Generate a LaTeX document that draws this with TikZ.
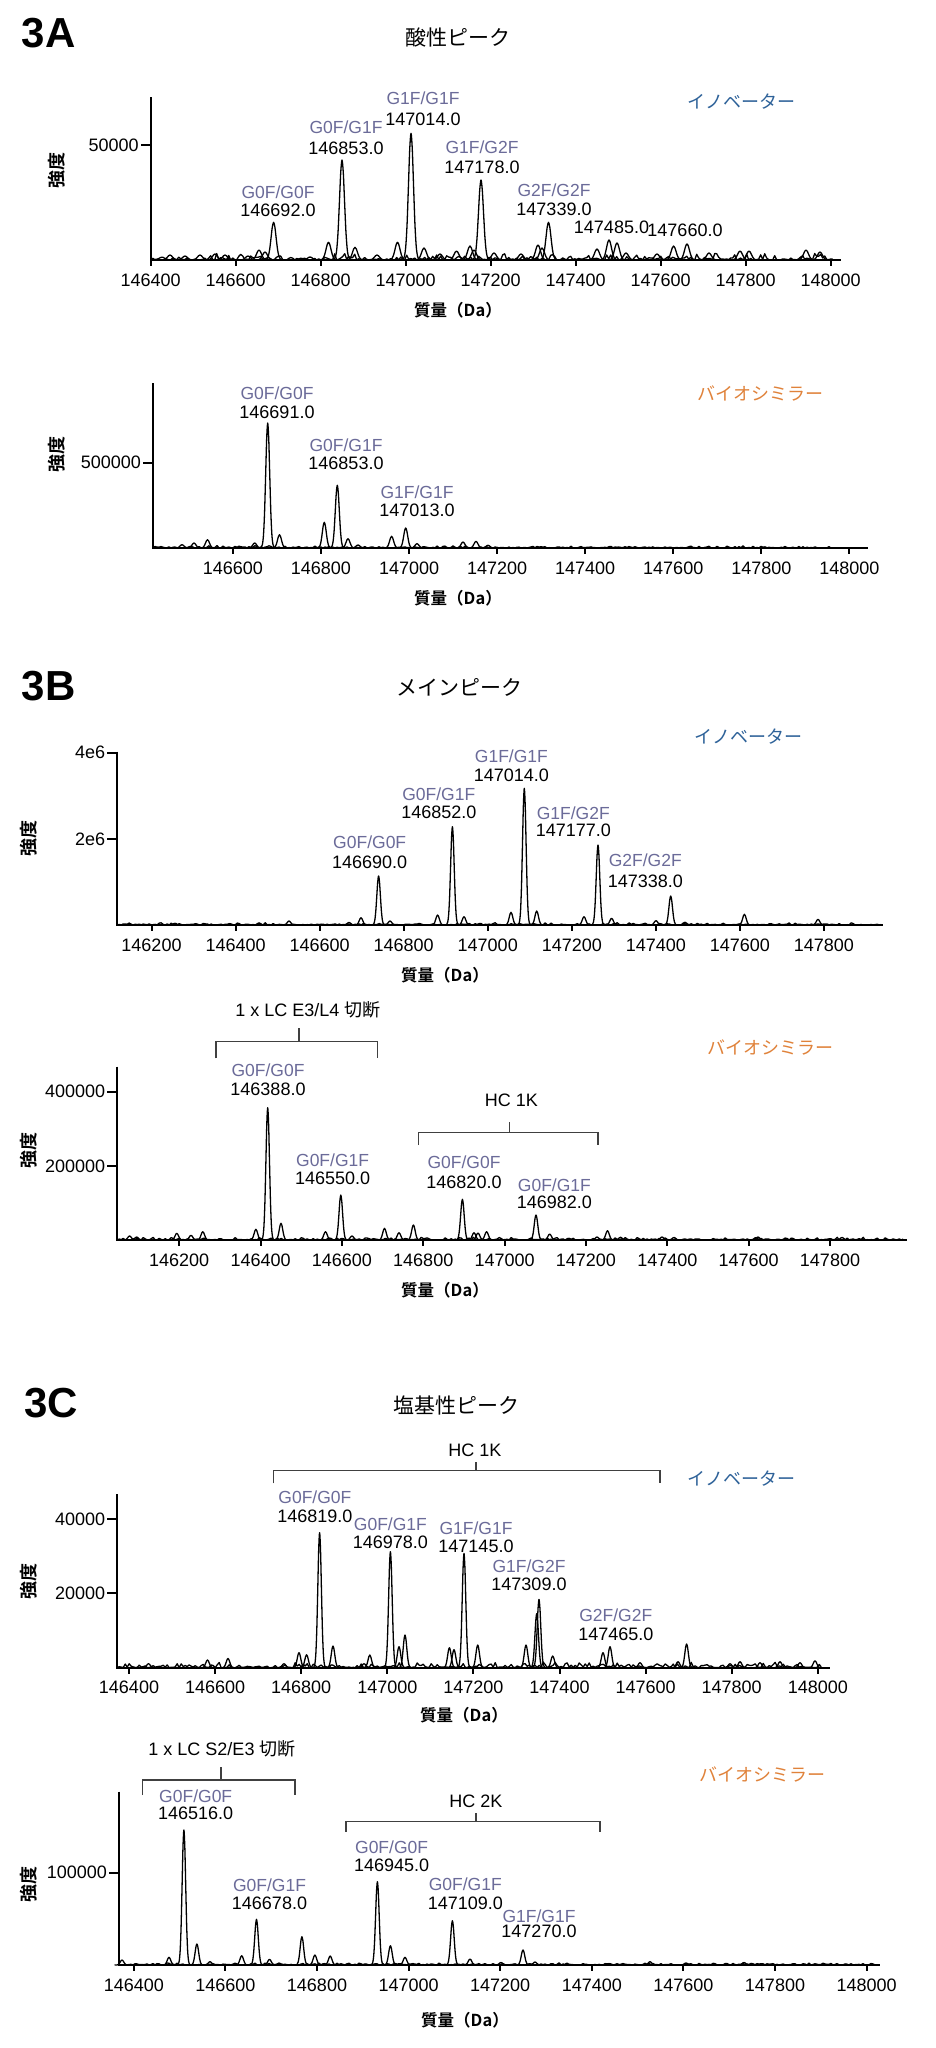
\documentclass[tikz,border=0pt]{standalone}
\usepackage{fontspec}
\setmainfont{Liberation Sans}
\newfontfamily\jp{Noto Sans CJK JP}[BoldFont={* Bold}]
\definecolor{glyco}{HTML}{6B6B99}
\definecolor{innov}{HTML}{2E6299}
\definecolor{biosim}{HTML}{E0823A}
% one peak at x=#1, height #2 (pixels above \base, width \pw)
\newcommand\pk[2]{%
  \pgfmathsetmacro\pkA{#1-3*\pw}\pgfmathsetmacro\pkB{#1+3*\pw}%
  \draw[spec] plot[domain=\pkA:\pkB,samples=17,smooth] (\x,{\base-#2*exp(-((\x-#1)/\pw)^2)});}
% baseline noise from x=#1, #2 steps, amplitude #3
\newcommand\noise[3]{\draw[spec] (#1,\base) \foreach \k in {1,...,#2}{ -- ({#1+2*\k},{\base-#3*rnd*rnd}) };}
% x ticks: first x, spacing, base, first mass/100, name, last index
\newcommand\xticks[6]{%
  \foreach \k in {0,...,#6}{%
    \pgfmathtruncatemacro\m{#4+2*\k}%
    \draw[ax] ({#1+#2*\k},#3) -- ++(0,6);
    \node[num] (#5\k) at ({#1+#2*\k},{#3+20}) {\m00};}}
\begin{document}
\begin{tikzpicture}[x=1pt,y=-1pt,
  spec/.style={line width=1.3pt,line join=round},
  ax/.style={line width=2pt},
  num/.style={font=\fontsize{18}{20}\selectfont,inner sep=0pt},
  glyco/.style={font=\fontsize{17.5}{20}\selectfont,text=glyco,inner sep=0pt},
  mass/.style={font=\fontsize{18}{20}\selectfont,inner sep=0pt},
  ylab/.style={font=\jp\bfseries\fontsize{18}{20}\selectfont,rotate=90,inner sep=0pt},
  xlab/.style={font=\jp\bfseries\fontsize{16.5}{20}\selectfont,inner sep=0pt},
  title/.style={font=\jp\fontsize{21}{24}\selectfont,inner sep=0pt},
  letter/.style={font=\bfseries\fontsize{42}{44}\selectfont,inner sep=0pt},
  innov/.style={font=\jp\fontsize{18}{20}\selectfont,text=innov,inner sep=0pt},
  bio/.style={font=\jp\fontsize{18}{20}\selectfont,text=biosim,inner sep=0pt},
  brk/.style={line width=1.5pt,black!75},
  brtext/.style={font=\fontsize{18}{20}\selectfont,inner sep=0pt}]
\useasboundingbox (0,0) rectangle (935,2048);
\fill[white] (0,0) rectangle (935,2048);
\pgfmathsetseed{11}

% ---- 3A innovator
\node[letter] (pA) at (48.5,33) {3A};
\node[title] (tA) at (458,37) {酸性ピーク};
\node[innov] (aIn) at (741,102) {イノベーター};
\node[ylab] (aIy) at (57,170) {強度};
\node[xlab] (aIx) at (458,310) {質量（Da）};
\def\base{260}\def\pw{3.5}
\draw[ax] (150.7,97) -- (150.7,260) -- (841,260);
\xticks{150.7}{85}{260}{1464}{aIt}{8}
\draw[ax] (150.7,145) -- ++(-10,0) node[num,anchor=east,inner sep=1pt] (aIy1) {50000};
\noise{150.7}{341}{7}
\foreach \px/\ph in {273.6/37.7,342/100,411/126.7,481/80,548.5/37.7,609/20,617/17,673.6/14,687/16,
  259/10,265/8,328.5/17.7,355/12.7,397.5/17.7,424/12,440/6,456.5/9,470/14,474/10,494/7,521/6,
  538/15,542/12,597/11,626/7,657/6,709/7,740/9,749/9,806/10,820/8,170/5,185/4,200/5,215/6,225/5,
  248/4,310/3,377/5}{\pk{\px}{\ph}}
\foreach \lx/\gy/\my/\ga/\gb/\m [count=\i] in {278/192/210/G0F/G0F/146692.0,
  346/127/148/G0F/G1F/146853.0,423/98/119/G1F/G1F/147014.0,
  482/147/167/G1F/G2F/147178.0,554/190/209/G2F/G2F/147339.0}{
  \node[glyco] (aIg\i) at (\lx,\gy) {\ga/\gb};
  \node[mass] (aIm\i) at (\lx,\my) {\m};}
\node[mass] (aIm6) at (611.5,227) {147485.0};
\node[mass] (aIm7) at (685,230) {147660.0};

% ---- 3A biosimilar
\node[bio] (aBn) at (760,393) {バイオシミラー};
\node[ylab] (aBy) at (57,454) {強度};
\node[xlab] (aBx) at (458,598) {質量（Da）};
\def\base{548}\def\pw{2.8}
\draw[ax] (153,383) -- (153,548) -- (868,548);
\xticks{232.9}{88.07}{548}{1466}{aBt}{7}
\draw[ax] (153,462.7) -- ++(-10,0) node[num,anchor=east,inner sep=1pt] (aBy1) {500000};
\noise{153}{341}{2.5}
\foreach \px/\ph in {267.7/125,279.5/13.3,254.7/5,207.5/8.3,194/5,182/3.3,324.3/25.7,337.3/62.7,
  348/9.3,358/3,391.6/11.7,405.7/20,417/4.3,463/6,476/6.7,488/2.7}{\pk{\px}{\ph}}
\foreach \lx/\gy/\my/\ga/\gb/\m [count=\i] in {277/393/412/G0F/G0F/146691.0,
  346/445/463/G0F/G1F/146853.0,417/492/510/G1F/G1F/147013.0}{
  \node[glyco] (aBg\i) at (\lx,\gy) {\ga/\gb};
  \node[mass] (aBm\i) at (\lx,\my) {\m};}

% ---- 3B innovator
\node[letter] (pB) at (48.5,686) {3B};
\node[title] (tB) at (459,687) {メインピーク};
\node[innov] (bIn) at (748,737) {イノベーター};
\node[ylab] (bIy) at (29,838) {強度};
\node[xlab] (bIx) at (445,975) {質量（Da）};
\def\base{925}\def\pw{2.5}
\draw[ax] (117.2,751.7) -- (117.2,925) -- (883,925);
\xticks{151.5}{84.06}{925}{1462}{bIt}{8}
\draw[ax] (117.2,752.7) -- ++(-10,0) node[num,anchor=east,inner sep=1pt] (bIy1) {4e6};
\draw[ax] (117.2,839.3) -- ++(-10,0) node[num,anchor=east,inner sep=1pt] (bIy2) {2e6};
\noise{117.2}{382}{2.5}
\foreach \px/\ph in {378.6/49,452.4/98.3,524.3/136.7,598/80,670.7/29,744.4/10.7,818/5.7,361/7.3,
  390/4,437.6/10,464/8.3,511/12.7,536.7/14,584/8.3,611.6/6.7,656/4.3,685/2.7,289/4,175/1.7,
  259/2,349/2.5}{\pk{\px}{\ph}}
\foreach \lx/\gy/\my/\ga/\gb/\m [count=\i] in {369.7/842.7/862.7/G0F/G0F/146690.0,
  438.8/794/812.7/G0F/G1F/146852.0,511.4/756.7/775/G1F/G1F/147014.0,
  573.3/813.3/830.7/G1F/G2F/147177.0,645.3/860.7/881.7/G2F/G2F/147338.0}{
  \node[glyco] (bIg\i) at (\lx,\gy) {\ga/\gb};
  \node[mass] (bIm\i) at (\lx,\my) {\m};}

% ---- 3B biosimilar
\node[bio] (bBn) at (770,1047) {バイオシミラー};
\node[ylab] (bBy) at (29,1150) {強度};
\node[xlab] (bBx) at (445,1290) {質量（Da）};
\node[brtext] (bLC) at (307.8,1010) {1 x LC E3/L4 {\jp 切断}};
\coordinate (bLCs) at (299,1041.7);
\draw[brk] (216,1058.3) |- (bLCs) -| (377.4,1058.3);
\draw[brk] (bLCs) -- ++(0,-13.7);
\node[brtext] (bHC) at (511.4,1100) {HC 1K};
\coordinate (bHCs) at (509.6,1132.7);
\draw[brk] (418.7,1145) |- (bHCs) -| (598,1145);
\draw[brk] (bHCs) -- ++(0,-11);
\def\base{1240}\def\pw{2.5}
\draw[ax] (117.2,1066.7) -- (117.2,1240) -- (906.6,1240);
\xticks{179.2}{81.35}{1240}{1462}{bBt}{8}
\draw[ax] (117.2,1091.7) -- ++(-10,0) node[num,anchor=east,inner sep=1pt] (bBy1) {400000};
\draw[ax] (117.2,1166) -- ++(-10,0) node[num,anchor=east,inner sep=1pt] (bBy2) {200000};
\noise{117.2}{393}{3}
\foreach \px/\ph in {267.7/132.3,281/16.7,255.9/10.7,340.8/45,325.5/8.3,352/4,384.5/11.7,399/7.3,
  413.4/15,462.4/40.7,474/7.3,478/7,486.6/8.3,536/25,549.7/6,607.5/9.3,597/3,620.5/2.7,202.8/8.3,
  191/4.7,176.8/6.7,129.6/4,136.7/3,662/3,674/2.5,758/3,842/2.5}{\pk{\px}{\ph}}
\foreach \lx/\gy/\my/\ga/\gb/\m [count=\i] in {268/1070/1089.3/G0F/G0F/146388.0,
  332.6/1160.7/1178.3/G0F/G1F/146550.0,464/1162.7/1182.7/G0F/G0F/146820.0,
  554.4/1185/1202.7/G0F/G1F/146982.0}{
  \node[glyco] (bBg\i) at (\lx,\gy) {\ga/\gb};
  \node[mass] (bBm\i) at (\lx,\my) {\m};}

% ---- 3C innovator
\node[letter] (pC) at (51,1403) {3C};
\node[title] (tC) at (456.6,1405) {塩基性ピーク};
\node[innov] (cIn) at (741,1478.3) {イノベーター};
\node[ylab] (cIy) at (29,1581.7) {強度};
\node[xlab] (cIx) at (464,1715) {質量（Da）};
\node[brtext] (cHC) at (474.8,1450) {HC 1K};
\coordinate (cHCs) at (476,1470.7);
\draw[brk] (273.6,1483.3) |- (cHCs) -| (660,1483.3);
\draw[brk] (cHCs) -- ++(0,-9);
\def\base{1667.7}\def\pw{2.5}
\draw[ax] (117.2,1494) -- (117.2,1667.7) -- (830,1667.7);
\xticks{129}{86.1}{1667.7}{1464}{cIt}{8}
\draw[ax] (117.2,1519) -- ++(-10,0) node[num,anchor=east,inner sep=1pt] (cIy1) {40000};
\draw[ax] (117.2,1593.3) -- ++(-10,0) node[num,anchor=east,inner sep=1pt] (cIy2) {20000};
\noise{117.2}{352}{6}
\foreach \px/\ph in {319.6/135,333/21.7,299/15,306.6/13,390.4/116,405/32.7,399/21,369.8/12.7,
  464/114.3,477.7/22.7,449.4/20,454/18,539/68.3,536.7/54,526/22.7,552.7/11.7,610/21,603/15,
  686.6/23.7,678/6,207.5/7.7,228/9.3,148.5/4,284/4,364/4,640/5,730/4,740/6,760/5,780/6,800/5,
  815/7}{\pk{\px}{\ph}}
\foreach \lx/\gy/\my/\ga/\gb/\m [count=\i] in {314.9/1497.3/1516/G0F/G0F/146819.0,
  390.4/1524/1542.7/G0F/G1F/146978.0,476/1528.3/1546.7/G1F/G1F/147145.0,
  529/1566/1584/G1F/G2F/147309.0,615.8/1615/1634/G2F/G2F/147465.0}{
  \node[glyco] (cIg\i) at (\lx,\gy) {\ga/\gb};
  \node[mass] (cIm\i) at (\lx,\my) {\m};}

% ---- 3C biosimilar
\node[bio] (cBn) at (762,1774) {バイオシミラー};
\node[ylab] (cBy) at (29,1884) {強度};
\node[xlab] (cBx) at (465,2020.7) {質量（Da）};
\node[brtext] (cLC) at (222,1748.3) {1 x LC S2/E3 {\jp 切断}};
\coordinate (cLCs) at (221,1780);
\draw[brk] (142.6,1795) |- (cLCs) -| (294.8,1795);
\draw[brk] (cLCs) -- ++(0,-13.3);
\node[brtext] (cHK) at (476,1801.7) {HC 2K};
\coordinate (cHKs) at (476,1821.7);
\draw[brk] (346,1831.7) |- (cHKs) -| (599.9,1831.7);
\draw[brk] (cHKs) -- ++(0,-8.7);
\def\base{1965}\def\pw{2.5}
\draw[ax] (119,1791.7) -- (119,1965) -- (880,1965);
\xticks{133.8}{91.6}{1965}{1464}{cBt}{8}
\draw[ax] (119,1872.7) -- ++(-10,0) node[num,anchor=east,inner sep=1pt] (cBy1) {100000};
\noise{119}{379}{2.5}
\foreach \px/\ph in {183.9/135,196.9/21,169/7.7,210/3.3,256.5/45.7,241.7/9.3,269.5/5.7,301.9/28.3,
  314.9/10,330.2/9,377.4/83.3,390.4/19.3,405/7.7,452.4/44.3,470/6,523/15,535/3,501/2.5,650/3.3,
  122/5,744/2.5,686/2}{\pk{\px}{\ph}}
\foreach \lx/\gy/\my/\ga/\gb/\m [count=\i] in {195.7/1796.7/1813.3/G0F/G0F/146516.0,
  269.5/1885/1903.3/G0F/G1F/146678.0,391.6/1847.7/1865/G0F/G0F/146945.0,
  465.3/1884.3/1903.3/G0F/G1F/147109.0,539/1916.7/1931.7/G1F/G1F/147270.0}{
  \node[glyco] (cBg\i) at (\lx,\gy) {\ga/\gb};
  \node[mass] (cBm\i) at (\lx,\my) {\m};}
\end{tikzpicture}
\end{document}
